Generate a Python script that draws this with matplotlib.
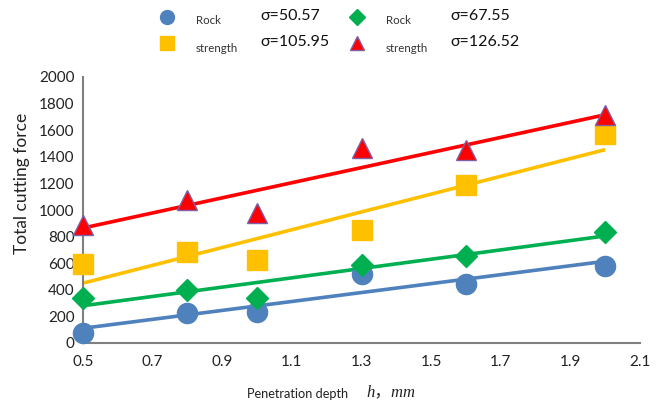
import numpy as np
import matplotlib
matplotlib.use("Agg")
import matplotlib.pyplot as plt
from matplotlib.lines import Line2D

plt.rcParams['font.family'] = ['Lato', 'DejaVu Sans']

# Penetration depth (mm)
depth = [0.5, 0.8, 1.0, 1.3, 1.6, 2.0]

# Total cutting force for four rock strengths
force_s1 = [75, 225, 233, 519, 444, 579]
force_s2 = [338, 398, 338, 587, 654, 835]
force_s3 = [594, 684, 624, 850, 1188, 1572]
force_s4 = [887, 1075, 978, 1466, 1451, 1714]

sigma_labels = ["σ=50.57", "σ=67.55", "σ=105.95", "σ=126.52"]
name_labels = ["Rock", "Rock", "strength", "strength"]

x_ticks = [0.5, 0.7, 0.9, 1.1, 1.3, 1.5, 1.7, 1.9, 2.1]
y_ticks = [0, 200, 400, 600, 800, 1000, 1200, 1400, 1600, 1800, 2000]

styles = [
    dict(marker='o', color='#4F81BD', ms=14.5, mec='#4F81BD'),
    dict(marker='D', color='#00B050', ms=11.5, mec='#00B050'),
    dict(marker='s', color='#FFC000', ms=14, mec='#FFC000'),
    dict(marker='^', color='#FF0000', ms=15, mec='#7F5FA8'),
]
series = [force_s1, force_s2, force_s3, force_s4]

fig = plt.figure(figsize=(6.59, 4.08), dpi=100)
ax = fig.add_axes([83 / 659, 65 / 408, 557 / 659, 266 / 408])

xs = np.array(depth)
for ys, st in zip(series, styles):
    ys = np.array(ys)
    k, b = np.polyfit(xs, ys, 1)
    xl = np.array([xs.min(), xs.max()])
    ax.plot(xl, k * xl + b, color=st['color'], lw=2.6, zorder=2,
            solid_capstyle='butt')
    ax.plot(xs, ys, ls='none', marker=st['marker'], ms=st['ms'],
            mfc=st['color'], mec=st['mec'], mew=1.0, zorder=3, clip_on=False)

ax.set_xlim(0.5, 2.1)
ax.set_ylim(0, 2000)
ax.set_xticks(x_ticks)
ax.set_xticklabels([f"{v:.1f}" for v in x_ticks], fontsize=11, color='#222222')
ax.set_yticks(y_ticks)
ax.set_yticklabels([str(v) for v in y_ticks], fontsize=11, color='#222222')
ax.tick_params(length=0, pad=9)
ax.tick_params(axis='y', pad=6)
for s in ['top', 'right']:
    ax.spines[s].set_visible(False)
for s in ['left', 'bottom']:
    ax.spines[s].set_color('#808080')
    ax.spines[s].set_linewidth(1.5)

fig.text(22 / 659, 1 - 183 / 408, "Total cutting force", rotation=90,
         ha='center', va='center', fontsize=12.5, color='#222222')

fig.text(298 / 659, 1 - 394 / 408, "Penetration depth", ha='center',
         va='center', fontsize=9.2, color='#222222')
fig.text(366 / 659, 1 - 392 / 408, "h，mm", ha='left', va='center',
         fontsize=12, style='italic',
         family=['Liberation Serif', 'Noto Sans CJK SC'], color='#222222')

# Legend block above the plot
leg_marker_x = [167, 357, 167, 357]
leg_row_y = [17, 17, 43, 43]
leg_styles = [styles[0], styles[1], styles[2], styles[3]]
leg_ms = [10, 8.5, 9.5, 10.5]
for i in range(4):
    st = leg_styles[i]
    fig.add_artist(Line2D([leg_marker_x[i] / 659], [1 - leg_row_y[i] / 408],
                          transform=fig.transFigure, ls='none',
                          marker=st['marker'], ms=leg_ms[i],
                          mfc=st['color'], mec=st['mec'], mew=1.0))
    name_y = leg_row_y[i] + (3 if i < 2 else 6)
    fig.text((leg_marker_x[i] + 29) / 659, 1 - name_y / 408, name_labels[i],
             ha='left', va='center', fontsize=8.3, color='#333333')
    fig.text((leg_marker_x[i] + 93) / 659, 1 - (leg_row_y[i] - 1) / 408,
             sigma_labels[i], ha='left', va='center', fontsize=11.5,
             color='#111111')

fig.savefig("out.png", dpi=100)
